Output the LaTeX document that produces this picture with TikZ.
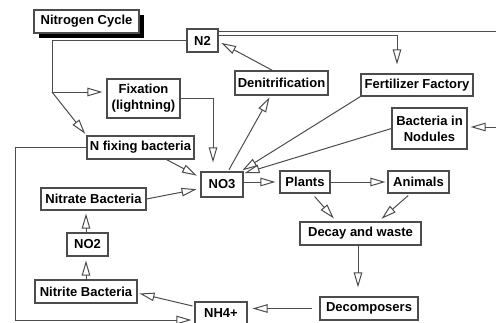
\documentclass[tikz,border=0pt]{standalone}
\usepackage{fontspec}
\setmainfont{Liberation Sans}
\usetikzlibrary{arrows.meta}
\begin{document}
\begin{tikzpicture}[x=1pt,y=-1pt,
  box/.style={draw=black!70, line width=1.1pt, fill=white, inner sep=0pt,
    font=\fontsize{13}{16}\selectfont\bfseries, align=center},
  con/.style={draw=black!70, line width=1pt},
  arr/.style={con, -{Triangle[open, length=15pt, width=8.5pt]}},
]
\useasboundingbox (0,0) rectangle (496,322);
% title with shadow
\fill[black] (39,15) rectangle (144,38);
\node[box, minimum width=105pt, minimum height=23pt] (title) at (86.5,21.5) {Nitrogen Cycle};

\node[box, minimum width=31pt, minimum height=23pt] (N2) at (202.5,40.5) {N2};
\node[box, minimum width=73pt, minimum height=39pt] (Fix) at (143.5,98.5) {Fixation\\(lightning)};
\node[box, minimum width=93pt, minimum height=24pt] (Den) at (281.5,83) {Denitrification};
\node[box, minimum width=112pt, minimum height=22pt] (FF) at (417,85) {Fertilizer Factory};
\node[box, minimum width=75pt, minimum height=41pt] (BN) at (429.5,128.5) {Bacteria in\\Nodules};
\node[box, minimum width=107pt, minimum height=23pt] (NFix) at (140.5,147.5) {N fixing bacteria};
\node[box, minimum width=42pt, minimum height=25pt] (NO3) at (222,184.5) {NO3};
\node[box, minimum width=50pt, minimum height=22pt] (Pl) at (305,182) {Plants};
\node[box, minimum width=61pt, minimum height=22pt] (An) at (418.5,182) {Animals};
\node[box, minimum width=105pt, minimum height=22pt] (NitA) at (93.5,199) {Nitrate Bacteria};
\node[box, minimum width=121pt, minimum height=23pt] (Dec) at (360.5,233.5) {Decay and waste};
\node[box, minimum width=41pt, minimum height=23pt] (NO2) at (87.5,244.5) {NO2};
\node[box, minimum width=102pt, minimum height=23pt] (NitB) at (86,291.5) {Nitrite Bacteria};
\node[box, minimum width=98pt, minimum height=23pt] (Dcp) at (369,308.5) {Decomposers};
\node[box, minimum width=52pt, minimum height=23pt] (NH4) at (221,313.5) {NH4+};

% coordinates for bends
\coordinate (jL) at (52,92);
\coordinate (eR) at (500,31.5);
\coordinate (bL) at (15,147.5);

% N2 left branch
\draw[con] (N2.west) -| (jL);
\draw[arr, shorten >=4pt] (jL) -- (jL -| Fix.west);
\draw[arr, shorten >=2pt] (jL) -- (NFix.north west);
% N2 right lines
\draw[arr, shorten >=3pt] ([yshift=9pt]N2.east) -- (eR) |- ([yshift=1.5pt]BN.east);
\draw[arr, shorten >=9pt] ([yshift=5.5pt]N2.east) -| ([xshift=-20pt]FF.north);
% Denitrification -> N2
\draw[arr, shorten >=3pt] ([xshift=-9pt]Den.north) -- ([yshift=-1pt]N2.east);
% Fixation -> NO3
\draw[arr, shorten >=9pt] (Fix.east) -| ([xshift=-9pt]NO3.north);
% NO3 -> Denitrification
\draw[arr, shorten >=2pt, shorten <=2pt] ([xshift=6pt]NO3.north) -- ([xshift=-11pt]Den.south);
% Fertilizer -> NO3
\draw[arr, shorten >=2pt] (FF.south west) -- ([xshift=-3pt]NO3.north east);
% Bacteria in Nodules -> NO3
\draw[arr, shorten >=1pt] (BN.west) -- ([yshift=-2pt]NO3.north east);
% N fixing -> NO3
\draw[arr, shorten >=4pt] ([xshift=26pt]NFix.south) -- ([yshift=7pt]NO3.west);
% N fixing -> NH4+ (outer loop)
\draw[arr, shorten >=3pt] (NFix.west) -- (bL) |- ([yshift=-6.5pt]NH4.west);
% Nitrate Bacteria -> NO3
\draw[arr, shorten >=4pt] (NitA.east) -- ([yshift=-4pt]NO3.west);
% NO2 -> Nitrate Bacteria
\draw[arr, shorten >=3pt] ([xshift=-1.5pt]NO2.north) -- ([xshift=-1.5pt]NO2.north |- NitA.south);
% Nitrite -> NO2
\draw[arr, shorten >=4pt] (NitB.north) -- (NitB.north |- NO2.south);
% NH4+ -> Nitrite
\draw[arr, shorten >=2pt, shorten <=2pt] ([yshift=-5pt]NH4.north west) -- ([yshift=-1.5pt]NitB.east);
% Decomposers -> NH4+
\draw[arr, shorten >=5pt, shorten <=7pt] (Dcp.west) -- (NH4.east |- Dcp.west);
% Decay -> Decomposers
\draw[arr, shorten >=9pt] ([xshift=-2.5pt]Dec.south) -- ([xshift=-2.5pt]Dec.south |- Dcp.north);
% NO3 -> Plants
\draw[arr, shorten >=4pt] (NO3.east |- Pl.west) -- (Pl.west);
% Plants -> Animals
\draw[arr, shorten >=2pt] (Pl.east) -- (An.west);
% Plants -> Decay
\draw[arr, shorten >=4pt, shorten <=4pt] ([xshift=7pt]Pl.south) -- ([xshift=-24pt]Dec.north);
% Animals -> Decay
\draw[arr, shorten >=4pt, shorten <=3pt] ([xshift=-8pt]An.south) -- ([xshift=18pt]Dec.north);
\end{tikzpicture}
\end{document}
